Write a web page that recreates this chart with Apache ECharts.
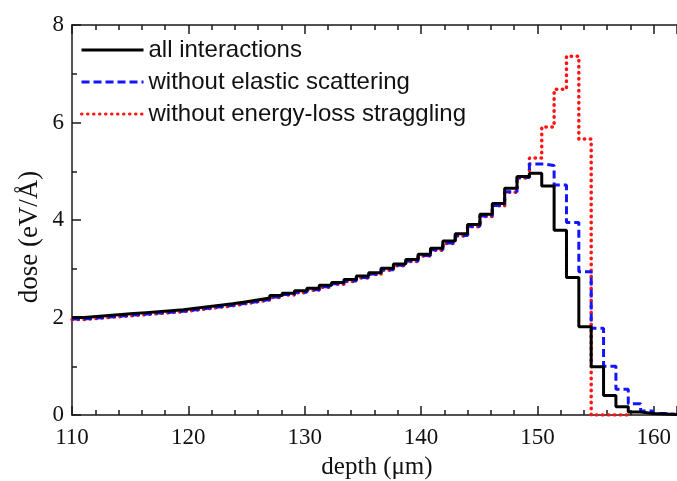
<!DOCTYPE html>
<html>
<head>
<meta charset="utf-8">
<script src="https://cdn.jsdelivr.net/npm/echarts@6/dist/echarts.min.js"></script>
<style>
  html, body { margin: 0; padding: 0; background: #fff; }
  #chart { width: 677px; height: 481px; }
</style>
</head>
<body>
<div id="chart"></div>
<script>
// Histogram binning along depth (µm)
const binStart = 110;
const binWidth = 1.0625;

// Dose per bin (eV/Å), one value per bin starting at binStart
const doseAll = [
  2.00, 2.02, 2.04, 2.06, 2.08, 2.10, 2.12, 2.14, 2.16, 2.19,
  2.22, 2.25, 2.28, 2.32, 2.36, 2.40, 2.45, 2.50, 2.55, 2.60,
  2.66, 2.72, 2.78, 2.85, 2.92, 3.01, 3.10, 3.19, 3.30, 3.42,
  3.57, 3.72, 3.91, 4.12, 4.34, 4.65, 4.89, 4.96, 4.70, 3.79,
  2.82, 1.81, 0.99, 0.40, 0.17, 0.06, 0.03, 0.02, 0.01
];
const doseNoElastic = [
  1.97, 1.99, 2.01, 2.03, 2.05, 2.07, 2.09, 2.11, 2.13, 2.16,
  2.19, 2.22, 2.25, 2.29, 2.33, 2.37, 2.42, 2.47, 2.52, 2.57,
  2.63, 2.69, 2.75, 2.82, 2.89, 2.98, 3.07, 3.16, 3.27, 3.39,
  3.53, 3.68, 3.87, 4.08, 4.30, 4.58, 4.87, 5.15, 5.12, 4.72,
  3.95, 2.94, 1.78, 1.00, 0.53, 0.23, 0.08, 0.03, 0.01
];
const doseNoStraggling = [
  1.96, 1.98, 2.00, 2.02, 2.04, 2.06, 2.08, 2.10, 2.12, 2.15,
  2.18, 2.21, 2.24, 2.28, 2.32, 2.36, 2.41, 2.46, 2.51, 2.56,
  2.62, 2.68, 2.74, 2.81, 2.88, 2.97, 3.06, 3.15, 3.26, 3.38,
  3.52, 3.67, 3.86, 4.07, 4.29, 4.57, 4.86, 5.27, 5.91, 6.68,
  7.36, 5.66, 0.00, 0.00, 0.00
];

const seriesNames = [
  'all interactions',
  'without elastic scattering',
  'without energy-loss straggling'
];

// Turn per-bin values into step points at the bin edges
function toSteps(values) {
  const pts = values.map((v, k) => [binStart + k * binWidth, v]);
  pts.push([binStart + values.length * binWidth, values[values.length - 1]]);
  return pts;
}

const serifFont = '"Liberation Serif", "Times New Roman", "DejaVu Serif", serif';
const sansFont = '"Liberation Sans", Arial, Helvetica, sans-serif';
const axisColor = '#1a1a1a';

const xCommon = {
  type: 'value',
  min: 110,
  max: 162,
  interval: 10,
  axisLine: { show: true, onZero: false, lineStyle: { color: axisColor, width: 1.5 } },
  axisTick: { show: true, inside: true, length: 9, lineStyle: { color: axisColor, width: 1.5 } },
  minorTick: { show: true, splitNumber: 5, length: 5, lineStyle: { color: axisColor, width: 1.5 } },
  splitLine: { show: false }
};

const chart = echarts.init(document.getElementById('chart'), null, { renderer: 'canvas' });
chart.setOption({
  animation: false,
  backgroundColor: '#ffffff',
  grid: { left: 72, right: 0, top: 25, bottom: 66, containLabel: false, outerBoundsMode: 'none' },
  legend: {
    orient: 'vertical',
    left: 80,
    top: 38,
    padding: 0,
    itemWidth: 62,
    itemHeight: 14,
    itemGap: 8,
    data: seriesNames,
    selectedMode: false,
    itemStyle: { opacity: 0 },
    lineStyle: { width: 3 },
    textStyle: { fontFamily: sansFont, fontSize: 24, lineHeight: 24, color: '#111' }
  },
  graphic: [
    {
      type: 'text',
      x: 30,
      y: 237,
      rotation: Math.PI / 2,
      style: {
        text: 'dose (eV/\u00c5)',
        font: '27px ' + serifFont,
        fill: '#111',
        align: 'center',
        verticalAlign: 'middle'
      }
    }
  ],
  xAxis: [
    Object.assign({}, xCommon, {
      position: 'bottom',
      name: 'depth (\u03bcm)',
      nameLocation: 'middle',
      nameGap: 40,
      nameTextStyle: { fontFamily: serifFont, fontSize: 25, color: '#111', padding: [0, 0, 0, 5] },
      axisLabel: {
        show: true, margin: 11, showMaxLabel: false,
        fontFamily: serifFont, fontSize: 23, color: '#111'
      }
    }),
    Object.assign({}, xCommon, {
      position: 'top',
      axisLabel: { show: false }
    })
  ],
  yAxis: {
    type: 'value',
    min: 0,
    max: 8,
    interval: 2,
    axisLine: { show: true, onZero: false, lineStyle: { color: axisColor, width: 1.5 } },
    axisTick: { show: true, inside: true, length: 9, lineStyle: { color: axisColor, width: 1.5 } },
    minorTick: { show: true, splitNumber: 2, length: 5, lineStyle: { color: axisColor, width: 1.5 } },
    splitLine: { show: false },
    axisLabel: { margin: 8, fontFamily: serifFont, fontSize: 23, color: '#111' }
  },
  series: [
    {
      name: seriesNames[2],
      type: 'line',
      step: 'end',
      symbol: 'none',
      z: 2,
      data: toSteps(doseNoStraggling),
      lineStyle: { color: '#ff1414', width: 3.5, type: [0.5, 5.5], cap: 'round' },
      itemStyle: { color: '#ff1414' }
    },
    {
      name: seriesNames[1],
      type: 'line',
      step: 'end',
      symbol: 'none',
      z: 3,
      data: toSteps(doseNoElastic),
      lineStyle: { color: '#1414ff', width: 3, type: [8, 4] },
      itemStyle: { color: '#1414ff' }
    },
    {
      name: seriesNames[0],
      type: 'line',
      step: 'end',
      symbol: 'none',
      z: 4,
      data: toSteps(doseAll),
      lineStyle: { color: '#000000', width: 3, type: 'solid' },
      itemStyle: { color: '#000000' }
    }
  ]
});
</script>
</body>
</html>
